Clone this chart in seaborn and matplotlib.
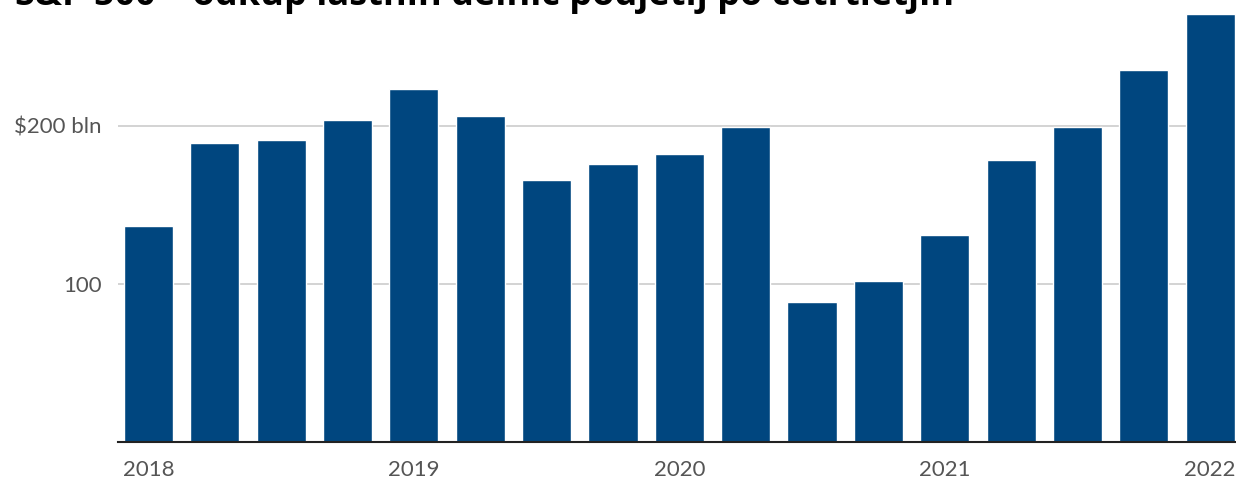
import matplotlib
matplotlib.use('Agg')
import matplotlib.pyplot as plt
import seaborn as sns
import pandas as pd

# Quarterly S&P 500 buybacks, $ bln
quarters = ['2018Q1', '2018Q2', '2018Q3', '2018Q4',
            '2019Q1', '2019Q2', '2019Q3', '2019Q4',
            '2020Q1', '2020Q2', '2020Q3', '2020Q4',
            '2021Q1', '2021Q2', '2021Q3', '2021Q4',
            '2022Q1']
buybacks = [136.7, 189.2, 191.1, 203.8,
            223.4, 206.3, 165.8, 175.9,
            182.3, 199.4, 88.6, 101.9,
            131.0, 178.5, 199.4, 235.4,
            270.9]
year_labels = ['2018', '2019', '2020', '2021', '2022']
year_positions = [0, 4, 8, 12, 16]
y_ticks = [100, 200]
y_tick_labels = ['100', '$200 bln']

title = 'S&P 500 – odkup lastnih delnic podjetij po četrtletjih'

df = pd.DataFrame({'quarter': quarters, 'value': buybacks})

sns.set_style('white')
plt.rcParams['font.family'] = ['Lato', 'DejaVu Sans']

fig = plt.figure(figsize=(12.36, 4.82), dpi=100)
ax = fig.add_axes([118 / 1236, 40 / 482, 1 - 118 / 1236, 442 / 482])

sns.barplot(data=df, x='quarter', y='value', color='#00467f', saturation=1,
            width=0.74, ax=ax, zorder=3)

ax.set_xlim(-0.46, 16.39)
ax.set_ylim(0, 279.7)

ax.set_yticks(y_ticks)
ax.set_yticklabels(y_tick_labels)
ax.yaxis.grid(True, color='#cccccc', linewidth=1.2, zorder=0)
ax.tick_params(axis='y', length=0, pad=12, labelsize=16, labelcolor='#555555')

ax.set_xticks(year_positions)
ax.set_xticklabels(year_labels)
ax.tick_params(axis='x', length=0, pad=13, labelsize=16, labelcolor='#555555')

ax.set_xlabel('')
ax.set_ylabel('')
for side in ['top', 'right', 'left']:
    ax.spines[side].set_visible(False)
ax.spines['bottom'].set_color('#222222')
ax.spines['bottom'].set_linewidth(1.5)
ax.spines['bottom'].set_zorder(4)

fig.text(15 / 1236, 1 - 5 / 482, title, fontsize=26, fontweight='bold',
         color='black', ha='left', va='baseline', family=['Open Sans', 'DejaVu Sans'])

fig.savefig('out.png', dpi=100)
